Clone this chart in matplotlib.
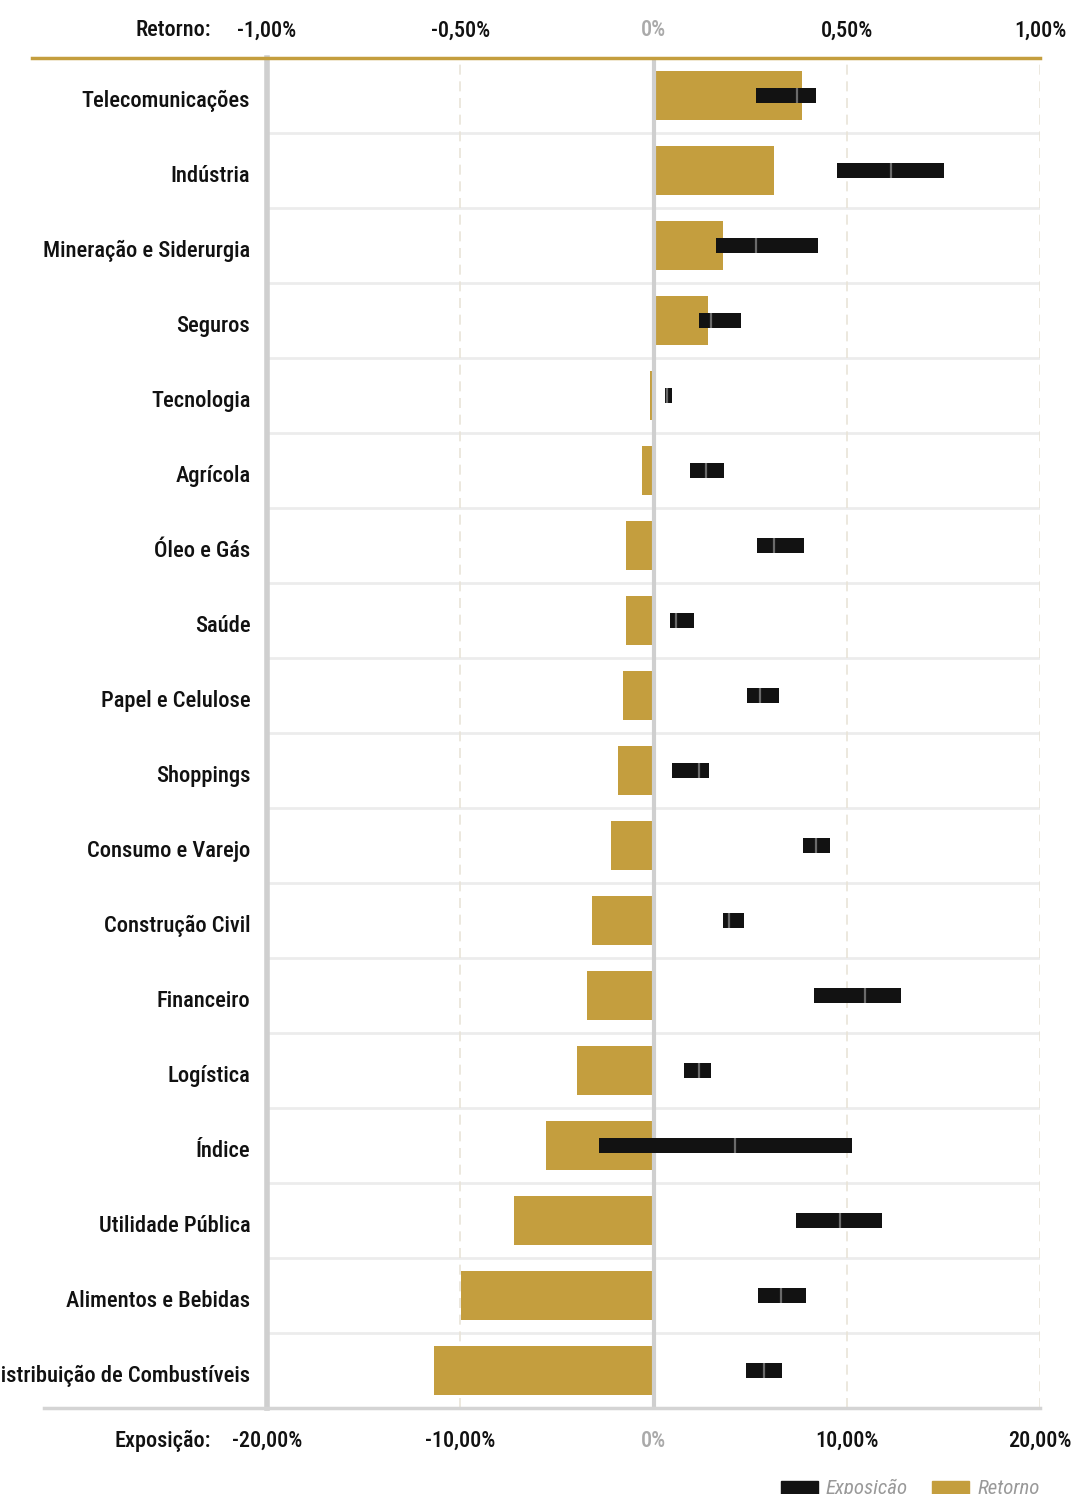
import numpy as np
import matplotlib
matplotlib.use("Agg")
from matplotlib import pyplot as plt
from matplotlib import font_manager
from matplotlib.lines import Line2D
from matplotlib.patches import Rectangle
from matplotlib.transforms import ScaledTranslation

# tenta achar uma fonte estreita, parecida com a do original
nomes = {f.name for f in font_manager.fontManager.ttflist}
FONTE = 'DejaVu Sans'
ESTICA = 'normal'
for nome in ['Roboto Condensed', 'Liberation Sans Narrow', 'Open Sans Condensed', 'Noto Sans Condensed']:
    if nome in nomes:
        FONTE = nome
        break
else:
    conds = [f for f in font_manager.fontManager.ttflist
             if f.name == 'DejaVu Sans' and f.stretch == 'condensed']
    if conds:
        ESTICA = 'condensed'
    elif 'Roboto' in nomes:
        FONTE = 'Roboto'
plt.rcParams['font.family'] = [FONTE, 'DejaVu Sans']
plt.rcParams['font.stretch'] = ESTICA

setores = ['Telecomunicações', 'Indústria', 'Mineração e Siderurgia', 'Seguros',
           'Tecnologia', 'Agrícola', 'Óleo e Gás', 'Saúde', 'Papel e Celulose',
           'Shoppings', 'Consumo e Varejo', 'Construção Civil', 'Financeiro',
           'Logística', 'Índice', 'Utilidade Pública', 'Alimentos e Bebidas',
           'Distribuição de Combustíveis']
# retorno em %
retorno = [0.383, 0.313, 0.181, 0.142, -0.010, -0.031, -0.070, -0.070, -0.080,
           -0.091, -0.111, -0.160, -0.171, -0.199, -0.279, -0.360, -0.497, -0.569]
# exposicao em %: inicio, marca, fim
expo_min = [5.32, 9.50, 3.21, 2.33, 0.57, 1.91, 5.38, 0.83, 4.86, 0.98, 7.76,
            3.62, 8.31, 1.60, -2.80, 7.35, 5.43, 4.81]
expo_mid = [7.44, 12.30, 5.28, 3.00, 0.72, 2.74, 6.26, 1.18, 5.52, 2.38, 8.42,
            3.92, 10.96, 2.38, 4.24, 9.66, 6.62, 5.74]
expo_max = [8.41, 15.03, 8.51, 4.53, 0.98, 3.67, 7.81, 2.12, 6.47, 2.85, 9.13,
            4.66, 12.81, 2.98, 10.28, 11.84, 7.87, 6.67]
ret_ticks = [-1.0, -0.5, 0, 0.5, 1.0]
ret_labels = ['-1,00%', '-0,50%', '0%', '0,50%', '1,00%']
exp_ticks = [-20, -10, 0, 10, 20]
exp_labels = ['-20,00%', '-10,00%', '0%', '10,00%', '20,00%']

GOLD = '#c49e3e'
BLACK = '#121212'
W, H = 1071, 1494

fig = plt.figure(figsize=(W / 100, H / 100), dpi=100)
x0, x1, y0, y1 = 267, 1040, 58, 1408
ax = fig.add_axes([x0 / W, 1 - y1 / H, (x1 - x0) / W, (y1 - y0) / H])
ax2 = ax.twiny()

n = len(setores)
y = np.arange(n)

ax.barh(y, retorno, height=0.66, color=GOLD, zorder=2)
ax.set_xlim(-1, 1)
ax.set_ylim(n - 0.5, -0.5)

lo = np.array(expo_min)
hi = np.array(expo_max)
ax2.barh(y, hi - lo, left=lo, height=0.21, color=BLACK, zorder=3)
ax2.vlines(expo_mid, y - 0.105, y + 0.105, color='#6a6a6a', lw=1.6, zorder=4)
ax2.set_xlim(-20, 20)

# grade
for i in range(n - 1):
    ax.axhline(i + 0.5, color='#ececec', lw=2, zorder=0)
for v in [-0.5, 0.5, 1.0]:
    ax.axvline(v, color='#e9e4d8', lw=1.2, ls=(0, (6, 4)), zorder=0)
ax.axvline(0, color='#cfcfcf', lw=3, zorder=5)

for s in ax.spines.values():
    s.set_visible(False)
for s in ax2.spines.values():
    s.set_visible(False)
ax.spines['left'].set_visible(True)
ax.spines['left'].set_color('#cfcfcf')
ax.spines['left'].set_linewidth(4)

# rotulos
ax.set_yticks(y)
ax.set_yticklabels(setores, fontsize=16.2, color='#111111', fontweight='medium')
ax.tick_params(axis='y', length=0, pad=12)
desce = ScaledTranslation(0, -3 / 100, fig.dpi_scale_trans)
for lbl in ax.get_yticklabels():
    lbl.set_transform(lbl.get_transform() + desce)

ax.xaxis.tick_top()
ax.set_xticks(ret_ticks)
ax.set_xticklabels(ret_labels, fontsize=16, color='#111111', fontweight='medium')
ax.tick_params(axis='x', length=0, pad=12)
ax.get_xticklabels()[2].set_color('#aaaaaa')

ax2.xaxis.tick_bottom()
ax2.set_xticks(exp_ticks)
ax2.set_xticklabels(exp_labels, fontsize=16, color='#111111', fontweight='medium')
ax2.tick_params(axis='x', length=0, pad=16)
ax2.get_xticklabels()[2].set_color('#aaaaaa')

fig.text(211 / W, 1 - 30 / H, 'Retorno:', ha='right', va='center', fontsize=16,
         color='#111111', fontweight='medium')
fig.text(211 / W, 1 - 1441 / H, 'Exposição:', ha='right', va='center', fontsize=16,
         color='#111111', fontweight='medium')

# linhas de topo e base
fig.add_artist(Line2D([32 / W, 1040 / W], [1 - 58 / H] * 2, color=GOLD, lw=2.5))
fig.add_artist(Line2D([44 / W, 1040 / W], [1 - 1408 / H] * 2, color='#d4d4d4', lw=2.5))

# legenda
fig.add_artist(Rectangle((781 / W, 0), 37 / W, 13 / H, color=BLACK, transform=fig.transFigure))
fig.text(826 / W, 1 - 1488 / H, 'Exposição', fontsize=15, style='italic', color='#999999', va='center')
fig.add_artist(Rectangle((932 / W, 0), 37 / W, 13 / H, color=GOLD, transform=fig.transFigure))
fig.text(978 / W, 1 - 1488 / H, 'Retorno', fontsize=15, style='italic', color='#999999', va='center')

fig.savefig('out.png', dpi=100)
